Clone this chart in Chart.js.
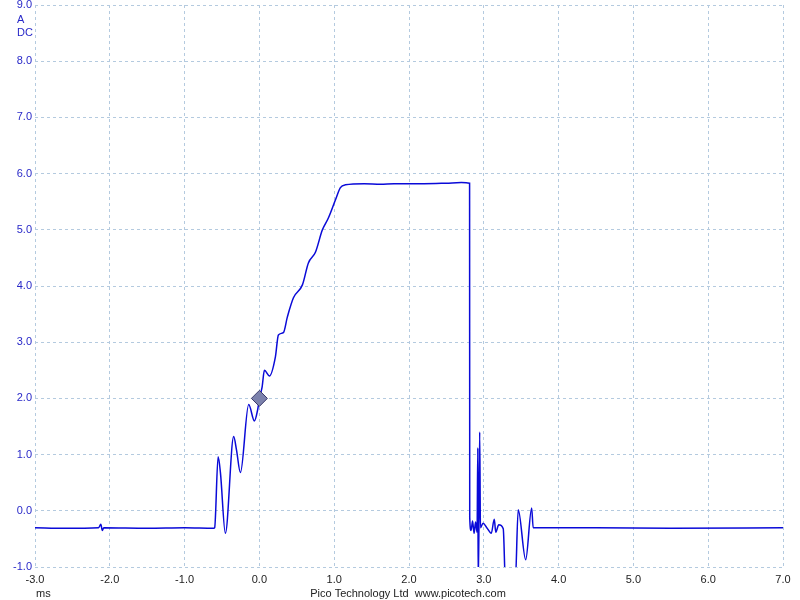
<!DOCTYPE html>
<html>
<head>
  <meta charset="UTF-8">
  <title>Pico current trace</title>
  <script src="https://cdn.jsdelivr.net/npm/chart.js"></script>
  <style>
    body { margin: 0; background: #fff; }
    #wrap { position: relative; width: 800px; height: 600px; }
  </style>
</head>
<body>
  <div id="wrap"><canvas id="scope" width="800" height="600"></canvas></div>
  <script>
    // trace (time in ms, current in A)
    const timeMs = [
      -3.0, -2.6, -2.15, -2.12, -2.10, -2.08, -1.5, -1.0, -0.61,
      -0.598, -0.552, -0.521, -0.455, -0.344, -0.307, -0.254, -0.143, -0.067, -0.023,
      0.0, 0.036, 0.067, 0.134, 0.214, 0.254, 0.321, 0.374, 0.455, 0.575,
      0.655, 0.749, 0.842, 0.922, 1.016, 1.083, 1.15, 1.4, 1.62, 1.8,
      2.2, 2.5, 2.7, 2.81, 2.812, 2.83, 2.85, 2.87, 2.89, 2.91,
      2.92, 2.925, 2.935, 2.945, 2.955, 2.99, 3.04, 3.10, 3.14, 3.16,
      3.2, 3.26, 3.29, 3.42, 3.46, 3.56, 3.64, 3.66, 4.5, 5.5, 7.0
    ];
    const currentA = [
      -0.30, -0.31, -0.30, -0.24, -0.35, -0.30, -0.31, -0.30, -0.31,
      -0.30, 0.96, 0.68, -0.40, 1.32, 1.09, 0.68, 1.89, 1.60, 1.80,
      2.0, 2.2, 2.5, 2.4, 2.74, 3.13, 3.17, 3.45, 3.79, 4.02,
      4.41, 4.6, 5.0, 5.21, 5.53, 5.75, 5.80, 5.82, 5.81, 5.82,
      5.82, 5.83, 5.84, 5.83, -0.12, -0.35, -0.18, -0.40, -0.20, -0.38,
      1.12, -1.3, -0.3, 1.4, -0.3, -0.22, -0.3, -0.40, -0.15, -0.38,
      -0.25, -0.32, -1.3, -1.3, 0.02, -0.87, 0.05, -0.30, -0.30, -0.31, -0.30
    ];
    // trigger marker
    const triggerMs = [0.0];
    const triggerA = [2.0];

    const xTicks = [-3, -2, -1, 0, 1, 2, 3, 4, 5, 6, 7];
    const yTicks = [-1, 0, 1, 2, 3, 4, 5, 6, 7, 8, 9];

    const gridColor = '#b4cadf';
    const fontFam = '"Liberation Sans", Arial, sans-serif';

    // extra labels: units, coupling, time unit and footer
    const textPlugin = {
      id: 'scopeText',
      afterDraw(chart) {
        const c = chart.ctx;
        c.save();
        c.font = '11px ' + fontFam;
        c.textBaseline = 'middle';
        c.textAlign = 'left';
        c.fillStyle = '#2828c8';
        c.fillText('A', 17, 20);
        c.fillText('DC', 17, 33);
        c.fillStyle = '#222';
        c.fillText('ms', 36, 594);
        c.textAlign = 'center';
        c.fillText('Pico Technology Ltd  www.picotech.com', 408, 594);
        c.restore();
      }
    };

    new Chart(document.getElementById('scope'), {
      type: 'line',
      data: {
        datasets: [{
          data: timeMs.map((t, i) => ({ x: t, y: currentA[i] })),
          borderColor: '#0a0ad8',
          borderWidth: 1.5,
          pointRadius: 0,
          cubicInterpolationMode: 'monotone',
          order: 2
        }, {
          data: triggerMs.map((t, i) => ({ x: t, y: triggerA[i] })),
          showLine: false,
          pointStyle: 'rectRot',
          pointRadius: 8,
          backgroundColor: '#7c82ac',
          borderColor: '#3a3a6a',
          borderWidth: 1,
          order: 1
        }]
      },
      options: {
        responsive: false,
        animation: false,
        layout: { autoPadding: false, padding: { top: 5, right: 17, left: 0, bottom: 0 } },
        plugins: { legend: { display: false }, tooltip: { enabled: false } },
        scales: {
          x: {
            type: 'linear',
            min: -3, max: 7,
            afterBuildTicks: s => { s.ticks = xTicks.map(v => ({ value: v })); },
            afterFit: s => { s.height = 33; s.paddingLeft = 0; s.paddingRight = 0; },
            border: { display: false, dash: [3, 3] },
            grid: { color: gridColor, drawTicks: false, lineWidth: 1 },
            ticks: {
              padding: 6,
              color: '#222',
              font: { family: fontFam, size: 11 },
              callback: v => v.toFixed(1)
            }
          },
          y: {
            min: -1, max: 9,
            afterBuildTicks: s => { s.ticks = yTicks.map(v => ({ value: v })); },
            afterFit: s => { s.width = 35; s.paddingTop = 0; s.paddingBottom = 0; },
            border: { display: false, dash: [3, 3] },
            grid: { color: gridColor, drawTicks: false, lineWidth: 1 },
            ticks: {
              padding: 3,
              color: '#2828c8',
              font: { family: fontFam, size: 11 },
              callback: v => v.toFixed(1)
            }
          }
        }
      },
      plugins: [textPlugin]
    });
  </script>
</body>
</html>
